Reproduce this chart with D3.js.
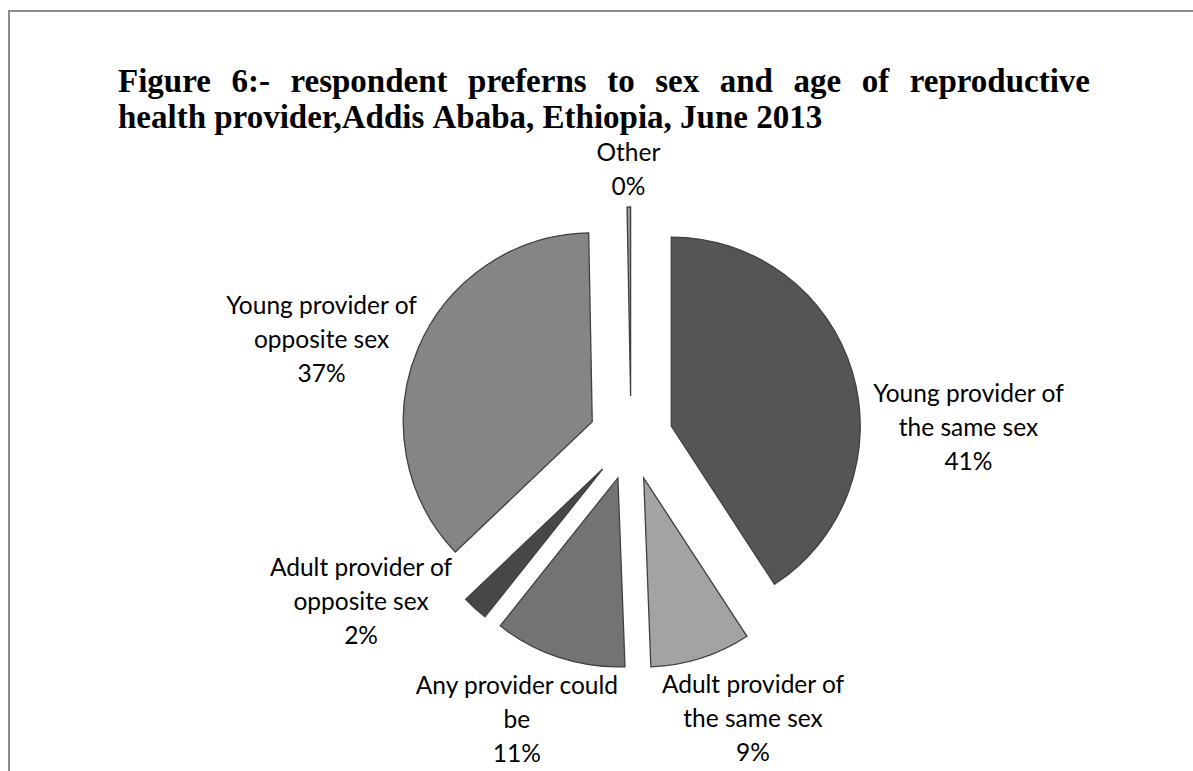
<!DOCTYPE html>
<html>
<head>
<meta charset="utf-8">
<script src="https://cdn.jsdelivr.net/npm/d3@7"></script>
<style>
    body { margin: 0; background: #fff; }
    svg { display: block; }
</style>
</head>
<body>
<div id="chart"></div>
<script>
// DATA
// category names keep excel's line breaks
const categories = [
    'Young provider of\nthe same sex',
    'Adult provider of\nthe same sex',
    'Any provider could\nbe',
    'Adult provider of\nopposite sex',
    'Young provider of\nopposite sex',
    'Other'
]
const shares = [40.8, 8.6, 11.3, 2.2, 36.8, 0.3]
const titleLines = [
    'Figure 6:- respondent preferns to sex and age of reproductive',
    'health provider,Addis Ababa, Ethiopia, June 2013'
]

// SETTINGS
const settings = {
    width: 1193,
    height: 771,
    center: { x: 631, y: 438 },
    radius: 189,
    explode: 42,
    labelGap: 8,
    labelFont: 'Lato, Carlito, Calibri, "Open Sans", sans-serif',
    labelSize: 24.5,
    lineHeight: 34,
    title: { left: 118, right: 1090, top: 92, lineHeight: 36, size: 33 },
    colors: ['#555555', '#a3a3a3', '#737373', '#474747', '#858585', '#9a9a9a'],
    // excel's "best fit" moved a couple of labels off the plain outside-end spot
    labelShift: [[17, 72], [22, 4], [-8, 6], [-47, -50], [-1, 13], [0, 4]]
}

const svg = d3.select('#chart').append('svg')
    .attr('width', settings.width)
    .attr('height', settings.height)

// frame (only left + top edges are visible in the crop)
svg.append('path')
    .attr('d', `M9,${settings.height} L9,11 L${settings.width},11`)
    .attr('fill', 'none')
    .attr('stroke', '#8c8c8c')
    .attr('stroke-width', 2)

// TITLE (justified first line)
titleLines.forEach((line, i) => {
    const y = settings.title.top + i * settings.title.lineHeight
    const words = line.split(' ')
    const g = svg.append('g')
    const nodes = words.map(w => g.append('text')
        .attr('y', y)
        .style('font-family', '"Liberation Serif", "Times New Roman", serif')
        .style('font-weight', 'bold')
        .style('font-size', settings.title.size + 'px')
        .attr('fill', '#000')
        .text(w))
    const widths = nodes.map(n => n.node().getComputedTextLength())
    const total = d3.sum(widths)
    const space = i === 0
        ? (settings.title.right - settings.title.left - total) / (words.length - 1)
        : settings.title.size * 0.25
    let x = settings.title.left
    nodes.forEach((n, k) => {
        n.attr('x', x)
        x += widths[k] + space
    })
})

// PIE
const pie = d3.pie().sort(null).value(d => d)
const arcs = pie(shares)
const arc = d3.arc().innerRadius(0).outerRadius(settings.radius)

const chartGroup = svg.append('g')
    .attr('transform', `translate(${settings.center.x}, ${settings.center.y})`)

const unit = a => [Math.sin(a), -Math.cos(a)]

chartGroup.selectAll('.slice')
    .data(arcs)
    .enter().append('path')
    .attr('class', 'slice')
    .attr('d', arc)
    .attr('transform', d => {
        const [ux, uy] = unit((d.startAngle + d.endAngle) / 2)
        return `translate(${ux * settings.explode}, ${uy * settings.explode})`
    })
    .attr('fill', (d, i) => settings.colors[i])
    .attr('stroke', '#404040')
    .attr('stroke-width', 1.3)

// LABELS (outside end, text box pushed away from the slice)
const measure = svg.append('text')
    .style('font-family', settings.labelFont)
    .style('font-size', settings.labelSize + 'px')
const textWidth = s => { measure.text(s); return measure.node().getComputedTextLength() }

arcs.forEach((d, i) => {
    const lines = categories[i].split('\n').concat([Math.round(shares[i]) + '%'])
    const w = d3.max(lines, textWidth)
    const h = lines.length * settings.lineHeight
    const [ux, uy] = unit((d.startAngle + d.endAngle) / 2)
    const reach = settings.explode + settings.radius + settings.labelGap
    const cx = ux * reach + ux * w / 2 + settings.labelShift[i][0]
    const cy = uy * reach + uy * h / 2 + settings.labelShift[i][1]
    const t = chartGroup.append('text')
        .attr('text-anchor', 'middle')
        .style('font-family', settings.labelFont)
        .style('font-size', settings.labelSize + 'px')
        .attr('fill', '#000')
    lines.forEach((ln, k) => {
        t.append('tspan')
            .attr('x', cx)
            .attr('y', cy - h / 2 + (k + 0.5) * settings.lineHeight + settings.labelSize * 0.35)
            .text(ln)
    })
})
measure.remove()
</script>
</body>
</html>
